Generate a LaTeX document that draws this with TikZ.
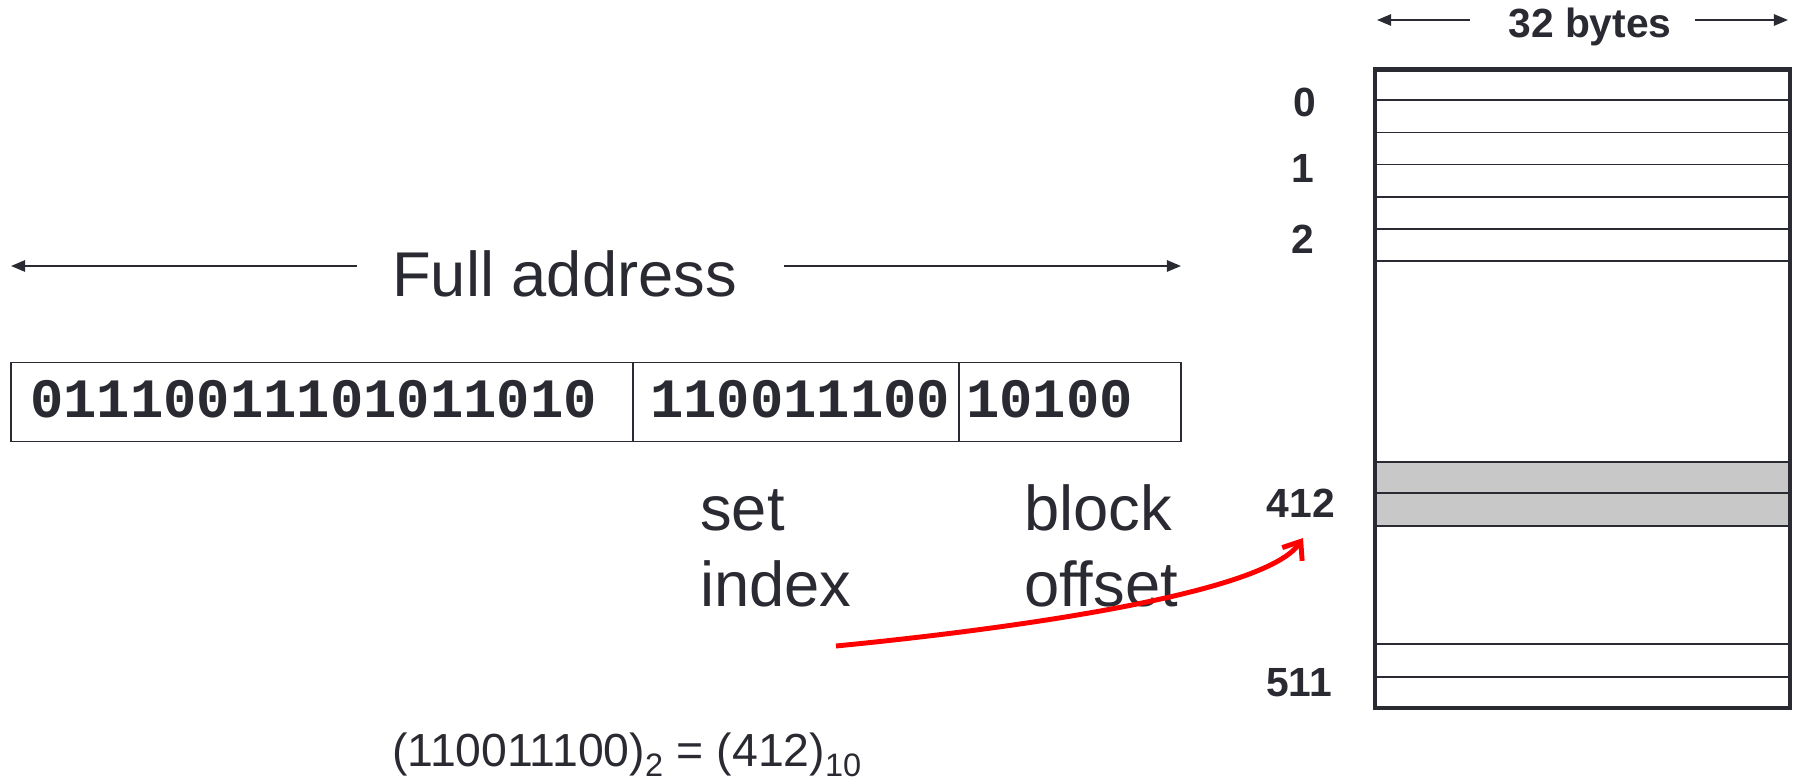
\documentclass[tikz,border=0pt]{standalone}
\usepackage{fontspec}
\setmainfont{Liberation Sans}
\setmonofont{Liberation Mono}
\usetikzlibrary{arrows.meta}
\definecolor{ink}{HTML}{2A2A32}
\definecolor{cellgray}{HTML}{C8C8C8}
\begin{document}
\begin{tikzpicture}[x=0.025cm,y=-0.025cm,
  lbl/.style={font=\fontsize{29}{34}\selectfont\bfseries, text=ink, inner sep=0, anchor=base},
  big/.style={font=\fontsize{45}{54}\selectfont, text=ink, inner sep=0, anchor=base west},
  bin/.style={font=\fontsize{39.5}{46}\selectfont\ttfamily\bfseries, text=ink, inner sep=0, anchor=base west},
  seg/.style={draw=ink, line width=1.2pt, minimum height=79*0.025cm, inner sep=0},
  dimarrow/.style={draw=ink, line width=1.4pt, -{Triangle[length=10pt,width=8pt]}},
  rowline/.style={draw=ink, line width=1.4pt},
  frame/.style={draw=ink, line width=3.5pt},
  ptr/.style={draw=red, line width=3.5pt, -{Straight Barb[length=11pt,width=17pt]}}]
\useasboundingbox (0,0) rectangle (1794,781);

% Full address
\node[big, font=\fontsize{45}{52}\selectfont] (fa) at (392,296) {Full address};
\coordinate (faL1) at (357,266); \coordinate (faL2) at (11,266);
\coordinate (faR1) at (784,266); \coordinate (faR2) at (1181,266);
\draw[dimarrow] (faL1) -- (faL2);
\draw[dimarrow] (faR1) -- (faR2);

% Address segments
\node[seg, minimum width=622*0.025cm] (s1) at (322,402) {};
\node[seg, minimum width=326*0.025cm] (s2) at (796,402) {};
\node[seg, minimum width=222*0.025cm] (s3) at (1070,402) {};
\node[bin] (b1) at (30,417) {01110011101011010};
\node[bin] (b2) at (650,417) {110011100};
\node[bin] (b3) at (966,417) {10100};

% Field names
\node[big] (set) at (700,530) {set};
\node[big] (index) at (700,606) {index};
\node[big] (block) at (1024,530) {block};
\node[big] (offset) at (1024,606) {offset};

% Formula
\node[big, font=\fontsize{33}{40}\selectfont] (eq) at (392,766) {(110011100)\textsubscript{2} = (412)\textsubscript{10}};

% 32 bytes
\node[lbl] (bytes) at (1590,38) {32 bytes};
\coordinate (bL1) at (1470,20); \coordinate (bL2) at (1377,20);
\coordinate (bR1) at (1695,20); \coordinate (bR2) at (1788,20);
\draw[dimarrow] (bL1) -- (bL2);
\draw[dimarrow] (bR1) -- (bR2);

% Cache table
\fill[cellgray] (1375,462) rectangle (1790,526);
\foreach \yy in {100,132.5,164.5,197,229,261,462,493,526,644,677}
  \draw[rowline] (1375,\yy) -- (1790,\yy);
\draw[frame] (1375,69.5) rectangle (1790,708);

% Row labels
\node[lbl] (r0) at (1305,117) {0};
\node[lbl] (r1) at (1303,183) {1};
\node[lbl] (r2) at (1303,253) {2};
\node[lbl] (r412) at (1301,517) {412};
\node[lbl] (r511) at (1299,696) {511};

% Red pointer
\coordinate (src) at (836,646);
\coordinate (dst) at (1303,538);
\draw[ptr] (src) .. controls (1000,630) and (1265,595) .. (dst);
\end{tikzpicture}
\end{document}
